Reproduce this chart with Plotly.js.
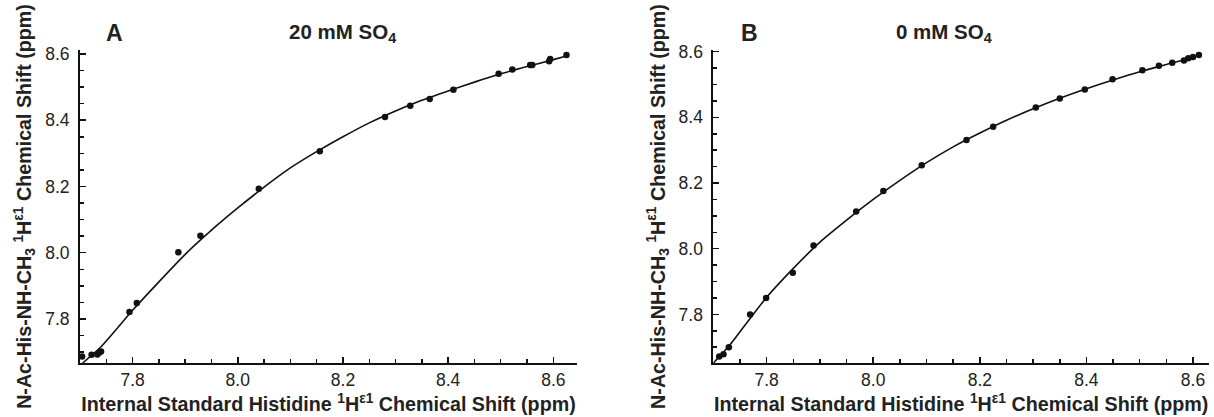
<!DOCTYPE html>
<html>
<head>
<meta charset="utf-8">
<script src="https://cdn.plot.ly/plotly-3.0.1.min.js"></script>
<style>html,body{margin:0;padding:0;background:#fff;}#chart{width:1214px;height:417px;}</style>
</head>
<body>
<div id="chart"></div>
<script>
// Panel A: 20 mM SO4 (measured points)
const aX = [7.704, 7.722, 7.733, 7.737, 7.740, 7.794, 7.808, 7.887, 7.929, 8.040, 8.156, 8.280, 8.328, 8.365, 8.410, 8.496, 8.522, 8.556, 8.560, 8.592, 8.594, 8.625];
const aY = [7.687, 7.692, 7.693, 7.699, 7.702, 7.821, 7.848, 8.001, 8.051, 8.193, 8.306, 8.410, 8.444, 8.464, 8.492, 8.540, 8.553, 8.567, 8.567, 8.578, 8.585, 8.597];
// Panel A fitted curve
const aFitX = [7.705, 7.74, 7.80, 7.85, 7.90, 7.95, 8.00, 8.05, 8.10, 8.15, 8.20, 8.25, 8.30, 8.35, 8.40, 8.45, 8.50, 8.55, 8.60, 8.625];
const aFitY = [7.667, 7.716, 7.826, 7.912, 7.995, 8.068, 8.135, 8.198, 8.256, 8.305, 8.350, 8.392, 8.428, 8.460, 8.488, 8.515, 8.540, 8.562, 8.583, 8.594];

// Panel B: 0 mM SO4 (measured points)
const bX = [7.699, 7.711, 7.719, 7.729, 7.769, 7.799, 7.849, 7.888, 7.968, 8.019, 8.091, 8.175, 8.225, 8.305, 8.350, 8.397, 8.449, 8.505, 8.536, 8.561, 8.583, 8.591, 8.600, 8.611];
const bY = [7.670, 7.672, 7.679, 7.700, 7.800, 7.850, 7.927, 8.010, 8.113, 8.176, 8.254, 8.331, 8.371, 8.430, 8.457, 8.485, 8.516, 8.543, 8.557, 8.566, 8.573, 8.580, 8.584, 8.590];
// Panel B fitted curve
const bFitX = [7.700, 7.73, 7.77, 7.80, 7.85, 7.90, 7.95, 8.00, 8.05, 8.10, 8.15, 8.20, 8.25, 8.30, 8.35, 8.40, 8.45, 8.50, 8.55, 8.60, 8.612];
const bFitY = [7.652, 7.705, 7.790, 7.852, 7.940, 8.020, 8.087, 8.150, 8.208, 8.262, 8.310, 8.352, 8.391, 8.426, 8.458, 8.487, 8.514, 8.539, 8.561, 8.583, 8.590];

const panelLabels = ['A', 'B'];
const panelTitles = ['20 mM SO<sub>4</sub>', '0 mM SO<sub>4</sub>'];
const xTitle = 'Internal Standard Histidine <sup>1</sup>H<sup>\u03b51</sup> Chemical Shift (ppm)';
const yTitle = 'N-Ac-His-NH-CH<sub>3</sub> <sup>1</sup>H<sup>\u03b51</sup> Chemical Shift (ppm)';

const FONT = 'Arial, "Liberation Sans", Helvetica, sans-serif';

const markerStyle = {color: '#111', size: 6.5};
const lineStyle = {color: '#111', width: 1.6, shape: 'spline', smoothing: 0.6};

const traces = [
  {x: aFitX, y: aFitY, mode: 'lines', line: lineStyle, xaxis: 'x', yaxis: 'y', hoverinfo: 'skip', showlegend: false},
  {x: aX, y: aY, mode: 'markers', marker: markerStyle, xaxis: 'x', yaxis: 'y', showlegend: false, cliponaxis: false},
  {x: bFitX, y: bFitY, mode: 'lines', line: lineStyle, xaxis: 'x2', yaxis: 'y2', hoverinfo: 'skip', showlegend: false},
  {x: bX, y: bY, mode: 'markers', marker: markerStyle, xaxis: 'x2', yaxis: 'y2', showlegend: false, cliponaxis: false}
];

function xax(domain, range, anchor) {
  return {
    domain: domain, range: range, anchor: anchor,
    showline: true, linecolor: '#111', linewidth: 2, mirror: false,
    showgrid: false, zeroline: false,
    ticks: 'inside', ticklen: 6, tickwidth: 1.5, tickcolor: '#111',
    dtick: 0.2, tick0: 0, tickformat: '.1f',
    minor: {dtick: 0.05, tick0: 0, ticks: 'inside', ticklen: 4, tickwidth: 1.5, tickcolor: '#111', showgrid: false},
    tickfont: {family: FONT, size: 17.5, color: '#222'},
    title: {text: xTitle, font: {family: FONT, size: 19.7, color: '#222', weight: 'bold'}, standoff: 8}
  };
}
function yax(domain, range, anchor) {
  return {
    domain: domain, range: range, anchor: anchor,
    showline: true, linecolor: '#111', linewidth: 2, mirror: false,
    showgrid: false, zeroline: false,
    ticks: 'inside', ticklen: 6, tickwidth: 1.5, tickcolor: '#111',
    dtick: 0.2, tick0: 0, tickformat: '.1f',
    ticklabelstandoff: 5,
    minor: {dtick: 0.05, tick0: 0, ticks: 'inside', ticklen: 4, tickwidth: 1.5, tickcolor: '#111', showgrid: false},
    tickfont: {family: FONT, size: 17.5, color: '#222'},
    title: {text: yTitle, font: {family: FONT, size: 19.7, color: '#222', weight: 'bold'}, standoff: 8}
  };
}

const layout = {
  width: 1214, height: 417,
  margin: {l: 80, r: 5, t: 50, b: 54},
  paper_bgcolor: '#fff', plot_bgcolor: '#fff',
  showlegend: false,
  xaxis: xax([0, 0.4402], [7.70, 8.645], 'y'),
  yaxis: yax([0, 1], [7.667, 8.612], 'x'),
  xaxis2: xax([0.561, 1.0], [7.70, 8.63], 'y2'),
  yaxis2: yax([0, 1], [7.652, 8.605], 'x2'),
  annotations: [
    {text: '<b>' + panelLabels[0] + '</b>', xref: 'paper', yref: 'paper', x: 0.0310, y: 1.0, xanchor: 'center', yanchor: 'bottom', showarrow: false, yshift: 2, font: {family: FONT, size: 23, color: '#222'}},
    {text: '<b>' + panelTitles[0] + '</b>', xref: 'paper', yref: 'paper', x: 0.2321, y: 1.0, xanchor: 'center', yanchor: 'bottom', showarrow: false, yshift: 2, font: {family: FONT, size: 20.5, color: '#222'}},
    {text: '<b>' + panelLabels[1] + '</b>', xref: 'paper', yref: 'paper', x: 0.5934, y: 1.0, xanchor: 'center', yanchor: 'bottom', showarrow: false, yshift: 2, font: {family: FONT, size: 23, color: '#222'}},
    {text: '<b>' + panelTitles[1] + '</b>', xref: 'paper', yref: 'paper', x: 0.7653, y: 1.0, xanchor: 'center', yanchor: 'bottom', showarrow: false, yshift: 2, font: {family: FONT, size: 20.5, color: '#222'}}
  ]
};

Plotly.newPlot('chart', traces, layout, {displayModeBar: false, staticPlot: true});
</script>
</body>
</html>
